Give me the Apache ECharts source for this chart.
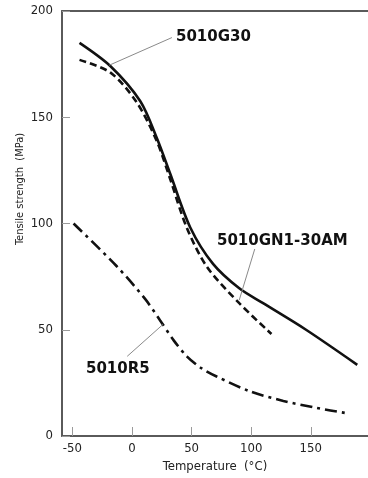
<!DOCTYPE html>
<html><head><meta charset="utf-8">
<script src="https://cdn.jsdelivr.net/npm/echarts@6/dist/echarts.min.js"></script>
<style>html,body{margin:0;padding:0;background:#fff}#c{width:368px;height:478px}</style>
</head><body><div id="c"></div>
<script>
// Data (Temperature °C, Tensile strength MPa)
const g30Temp   = [-44, -18, 7, 21, 32, 49, 68, 90, 110, 146, 189];
const g30Value  = [185, 174, 157.5, 140, 123.5, 98, 81, 69.5, 62.5, 50, 33.5];
const gn1Temp   = [-44, -18, 4, 21, 32, 46, 63, 90, 117];
const gn1Value  = [177, 171, 157, 138.5, 121, 98, 79.5, 62.5, 48];
const r5Temp    = [-49, -13, 11, 23.5, 35, 46, 58, 71, 99, 127, 155, 181.5];
const r5Value   = [100, 80, 64.5, 54.5, 45, 37.5, 32, 28, 21, 16.5, 13.2, 10.6];
const xTicks    = [-50, 0, 50, 100, 150];
const yTicks    = [0, 50, 100, 150, 200];
const seriesNames = ['5010G30', '5010GN1-30AM', '5010R5'];

const zip = (a, b) => a.map((v, i) => [v, b[i]]);
const font = "'Liberation Sans Narrow','DejaVu Sans Condensed','Roboto',sans-serif";
const axisCol = '#5a5a5a';
const leader = (a, b) => ({
  silent: true, symbol: 'none', label: {show: false},
  lineStyle: {color: '#8a8a8a', width: 1, type: 'solid'},
  data: [[{coord: a}, {coord: b}]]
});

const chart = echarts.init(document.getElementById('c'));
chart.setOption({
  animation: false,
  backgroundColor: '#fff',
  grid: {left: 62, right: 0, top: 11, bottom: 38, containLabel: false},
  xAxis: [{
    type: 'value', min: -58.7, max: 198,
    axisLine: {show: true, onZero: false, lineStyle: {color: axisCol, width: 2}},
    axisTick: {show: true, inside: true, length: 9, lineStyle: {color: '#9a9a9a', width: 1}, customValues: xTicks},
    axisLabel: {color: '#222', fontFamily: font, fontSize: 13, margin: 6, customValues: xTicks},
    splitLine: {show: false},
    name: 'Temperature  (°C)', nameLocation: 'middle', nameGap: 24,
    nameTextStyle: {color: '#222', fontFamily: font, fontSize: 13}
  }, {
    type: 'value', position: 'top', min: -58.7, max: 198,
    axisLine: {show: true, onZero: false, lineStyle: {color: axisCol, width: 2}},
    axisTick: {show: false}, axisLabel: {show: false}, splitLine: {show: false}
  }],
  yAxis: {
    type: 'value', min: 0, max: 200, interval: 50,
    axisLine: {show: true, onZero: false, lineStyle: {color: axisCol, width: 2}},
    axisTick: {show: true, inside: true, length: 8, lineStyle: {color: '#9a9a9a', width: 1}},
    axisLabel: {color: '#222', fontFamily: font, fontSize: 13, margin: 9,
      formatter: v => yTicks.includes(v) ? String(v) : ''},
    splitLine: {show: false}
  },
  series: [{
    name: seriesNames[0], type: 'line', smooth: 0.3, showSymbol: false, symbol: 'none',
    data: zip(g30Temp, g30Value),
    lineStyle: {color: '#111', width: 2.6, type: 'solid'},
    markLine: leader([-19, 174.5], [33.5, 187.5])
  }, {
    name: seriesNames[1], type: 'line', smooth: 0.3, showSymbol: false, symbol: 'none',
    data: zip(gn1Temp, gn1Value),
    lineStyle: {color: '#111', width: 2.6, type: [7, 4]},
    markLine: leader([90, 64], [103, 88])
  }, {
    name: seriesNames[2], type: 'line', smooth: 0.3, showSymbol: false, symbol: 'none',
    data: zip(r5Temp, r5Value),
    lineStyle: {color: '#111', width: 2.6, type: [12, 5, 3, 5]},
    markLine: leader([-4, 37.5], [26, 52.5])
  }],
  graphic: [
    {type: 'text', left: 176, top: 30, style: {text: seriesNames[0], font: "bold 15px 'DejaVu Sans'", fill: '#111'}},
    {type: 'text', left: 217, top: 234, style: {text: seriesNames[1], font: "bold 15px 'DejaVu Sans'", fill: '#111'}},
    {type: 'text', left: 86, top: 362, style: {text: seriesNames[2], font: "bold 15px 'DejaVu Sans'", fill: '#111'}},
    {type: 'text', x: 20, y: 189, rotation: Math.PI / 2,
      style: {text: 'Tensile strength  (MPa)', font: "11px 'Liberation Sans Narrow','DejaVu Sans Condensed',sans-serif",
        fill: '#222', align: 'center', verticalAlign: 'middle'}}
  ]
});
</script></body></html>
